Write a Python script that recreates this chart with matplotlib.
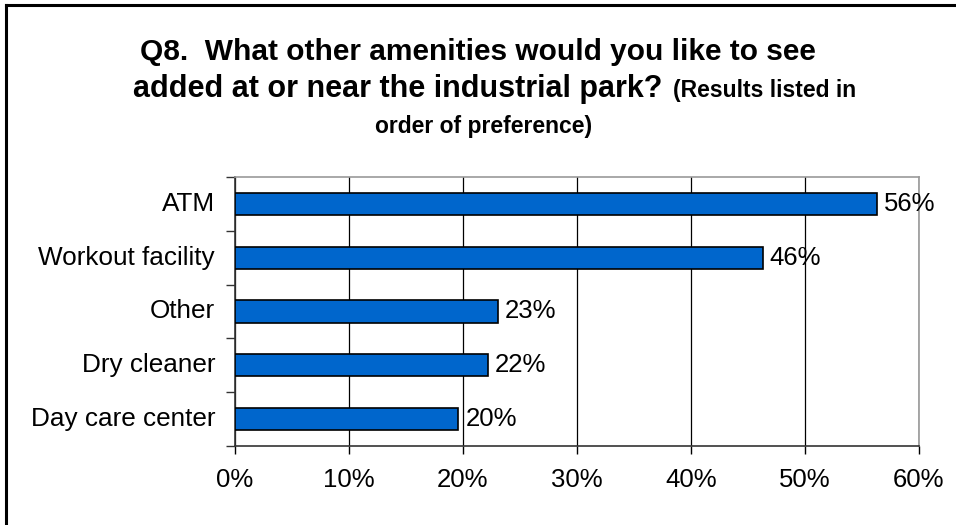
import matplotlib
matplotlib.use('Agg')
import matplotlib.pyplot as plt
from matplotlib.lines import Line2D

plt.rcParams['font.family'] = ['Liberation Sans', 'DejaVu Sans']

# Survey results (percent of respondents)
amenities = ['ATM', 'Workout facility', 'Other', 'Dry cleaner', 'Day care center']
shares = [56.3, 46.3, 23.1, 22.2, 19.6]
xticks = [0, 10, 20, 30, 40, 50, 60]

fig = plt.figure(figsize=(9.56, 5.25), dpi=100)
ax = fig.add_axes([235/956, 1 - 446/525, 684/956, 269/525])

# Bars, first category at the top
ypos = list(range(len(amenities)))[::-1]
ax.barh(ypos, shares, height=0.41, color='#0066CC', edgecolor='black', linewidth=1.2, zorder=3)
for y, v in zip(ypos, shares):
    ax.text(v + 0.6, y, f'{v:.0f}%', va='center', ha='left', fontsize=18.5, zorder=4)

ax.set_xlim(0, 60)
ax.set_ylim(-0.5, len(amenities) - 0.5)
ax.set_xticks(xticks)
ax.set_xticklabels([f'{t}%' for t in xticks], fontsize=18.5)
ax.tick_params(axis='x', length=6, width=1, pad=10, direction='out', color='black')

# Category labels sit between the tick marks at the band boundaries
ax.set_yticks([y + 0.5 for y in range(-1, len(amenities))])
ax.set_yticklabels([])
ax.tick_params(axis='y', length=6.5, width=1, direction='out', color='#333333')
for y, name in zip(ypos, amenities):
    ax.text(-1.75, y, name, ha='right', va='center', fontsize=18.8,
            transform=ax.transData, clip_on=False)

ax.grid(axis='x', color='black', linewidth=0.9, zorder=0)
ax.spines['top'].set_color('#999999')
ax.spines['right'].set_color('#999999')
ax.spines['bottom'].set_color('#333333')
ax.spines['left'].set_color('#333333')
for s in ax.spines.values():
    s.set_linewidth(1.2)

# Title lines
fig.text(478/956, 1 - 52/525, 'Q8.  What other amenities would you like to see',
         ha='center', va='center', fontsize=21.5, fontweight='bold')
fig.text(662/956, 1 - 89/525, 'added at or near the industrial park?',
         ha='right', va='center', fontsize=22, fontweight='bold')
fig.text(673/956, 1 - 90/525, '(Results listed in',
         ha='left', va='center', fontsize=16.5, fontweight='bold')
fig.text(375/956, 1 - 127/525, 'order of preference)',
         ha='left', va='center', fontsize=16.5, fontweight='bold')

# Frame along the top and left edges
fig.add_artist(Line2D([6/956, 1], [1 - 5/525, 1 - 5/525], color='black', linewidth=2.2))
fig.add_artist(Line2D([6/956, 6/956], [0, 1 - 5/525], color='black', linewidth=2.2))

fig.savefig('out.png', dpi=100)
